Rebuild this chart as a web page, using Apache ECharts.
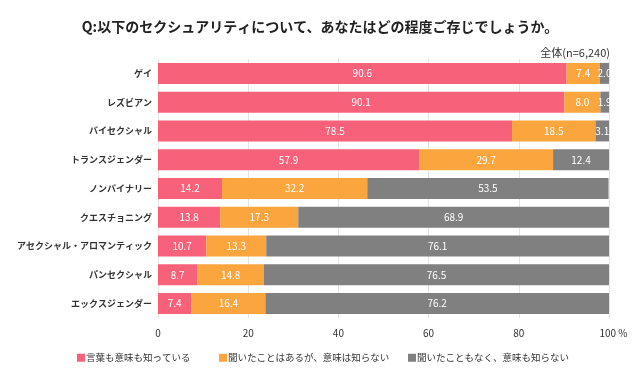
<!DOCTYPE html>
<html><head><meta charset="utf-8">
<script src="https://cdn.jsdelivr.net/npm/echarts@6/dist/echarts.min.js"></script>
<style>html,body{margin:0;padding:0;background:#fff}#c{width:640px;height:390px}</style>
</head><body><div id="c"></div>
<script>
const categories = ['ゲイ','レズビアン','バイセクシャル','トランスジェンダー','ノンバイナリー','クエスチョニング','アセクシャル・アロマンティック','パンセクシャル','エックスジェンダー'];
const seriesNames = ['言葉も意味も知っている','聞いたことはあるが、意味は知らない','聞いたこともなく、意味も知らない'];
const knowBoth = [90.6, 90.1, 78.5, 57.9, 14.2, 13.8, 10.7, 8.7, 7.4];
const heardOnly = [7.4, 8.0, 18.5, 29.7, 32.2, 17.3, 13.3, 14.8, 16.4];
const neverHeard = [2.0, 1.9, 3.1, 12.4, 53.5, 68.9, 76.1, 76.5, 76.2];
const xTicks = [0, 20, 40, 60, 80, 100];
const colors = ['#f7627a', '#fba53f', '#808080'];
const FONT = '"Noto Sans CJK JP", "Noto Sans", sans-serif';

const chart = echarts.init(document.getElementById('c'), null, {renderer: 'canvas'});
const mk = (name, data, color) => ({
  name, type: 'bar', stack: 'total', data, barWidth: 21,
  itemStyle: {color},
  label: {show: true, position: 'inside', color: '#fff', fontSize: 10, fontFamily: FONT,
    formatter: p => p.value.toFixed(1)},
  emphasis: {disabled: true}
});
const legendLefts = [77, 219, 408];
const legends = seriesNames.map((n, i) => ({
  left: legendLefts[i], top: 353, itemWidth: 8, itemHeight: 8, icon: 'rect', padding: 0,
  textStyle: {fontSize: 9.5, color: '#333', fontFamily: FONT, padding: [0, 0, 0, -4]},
  data: [n]
}));
chart.setOption({
  animation: false,
  textStyle: {fontFamily: FONT},
  title: [
    {text: 'Q:以下のセクシュアリティについて、あなたはどの程度ご存じでしょうか。', left: 'center', top: 15,
     textStyle: {fontSize: 14, fontWeight: 'bold', color: '#222', fontFamily: FONT}},
    {text: '全体(n=6,240)', right: 25, top: 42, textStyle: {fontSize: 11, fontWeight: 'normal', color: '#333', fontFamily: FONT}}
  ],
  legend: legends,
  grid: {left: 158, right: 31, top: 59, bottom: 72, containLabel: false},
  xAxis: {
    type: 'value', min: 0, max: 100, interval: 20,
    axisLine: {show: false}, axisTick: {show: false},
    splitLine: {show: true, lineStyle: {color: '#e4e4e4', width: 1}},
    axisLabel: {margin: 10, fontSize: 10, color: '#333', fontFamily: FONT,
      formatter: v => xTicks.includes(v) ? (v === 100 ? '{pad|}100 %' : String(v)) : '',
      rich: {pad: {width: 9}}}
  },
  yAxis: {
    type: 'category', data: categories, inverse: true,
    axisLine: {show: false}, axisTick: {show: false},
    axisLabel: {margin: 6, fontSize: 9, fontWeight: 'bold', color: '#333', fontFamily: FONT}
  },
  series: [
    mk(seriesNames[0], knowBoth, colors[0]),
    mk(seriesNames[1], heardOnly, colors[1]),
    mk(seriesNames[2], neverHeard, colors[2])
  ]
});
</script></body></html>
